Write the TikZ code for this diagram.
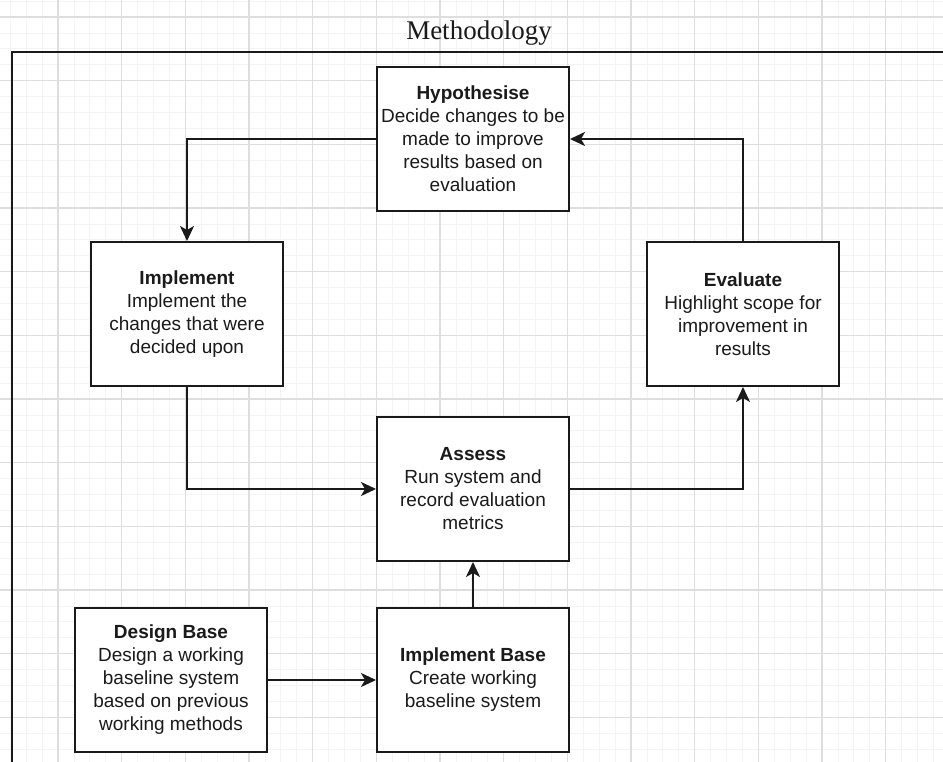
\documentclass[tikz,border=0pt]{standalone}
\usepackage{fontspec}
\newfontfamily\boxfont{Liberation Sans}
\newfontfamily\titlefont{Liberation Serif}
\usetikzlibrary{arrows.meta}
\definecolor{minorgrid}{HTML}{F4F4F4}
\definecolor{majorgrid}{HTML}{DEDEDE}
\definecolor{ink}{HTML}{1A1A1A}
\tikzset{
  stepbox/.style={draw=ink, line width=2pt, fill=white, minimum width=192pt,
    minimum height=144pt, inner sep=0pt, align=center, text=ink,
    font=\boxfont\fontsize{19pt}{23pt}\selectfont},
  connector/.style={draw=ink, line width=2pt,
    -{Stealth[length=15pt, width=14pt, inset=4pt]}},
  frameline/.style={draw=ink, line width=2pt}
}
\begin{document}
\begin{tikzpicture}[x=1pt, y=-1pt]
\useasboundingbox (0,0) rectangle (943,762);
\clip (0,0) rectangle (943,762);
\fill[white] (0,0) rectangle (943,762);
% background grid: minor lines every quarter of a major cell
\foreach \i in {0,...,64} {
  \pgfmathsetmacro{\gx}{-5.67 + \i*15.9175}
  \draw[minorgrid, line width=0.8pt] (\gx,0) -- (\gx,762);
}
\foreach \i in {0,...,52} {
  \pgfmathsetmacro{\gy}{-46.67 + \i*15.9175}
  \draw[minorgrid, line width=0.8pt] (0,\gy) -- (943,\gy);
}
\foreach \i in {0,...,16} {
  \pgfmathsetmacro{\gx}{-5.67 + \i*63.67}
  \draw[majorgrid, line width=1.1pt] (\gx,0) -- (\gx,762);
}
\foreach \i in {0,...,13} {
  \pgfmathsetmacro{\gy}{-46.67 + \i*63.67}
  \draw[majorgrid, line width=1.1pt] (0,\gy) -- (943,\gy);
}
% outer frame with its title
\draw[frameline] (12,775) -- (12,52) -- (955,52);
\node[font=\titlefont\fontsize{27pt}{30pt}\selectfont, text=ink] (title) at (479,33) {Methodology};
% process steps
\node[stepbox] (hyp) at (473,139) {\textbf{Hypothesise}\\Decide changes to be\\made to improve\\results based on\\evaluation};
\node[stepbox] (impl) at (187,314) {\textbf{Implement}\\Implement the\\changes that were\\decided upon};
\node[stepbox] (eval) at (743,314) {\textbf{Evaluate}\\Highlight scope for\\improvement in\\results};
\node[stepbox] (assess) at (473,489) {\textbf{Assess}\\Run system and\\record evaluation\\metrics};
\node[stepbox] (design) at (171,680) {\textbf{Design Base}\\Design a working\\baseline system\\based on previous\\working methods};
\node[stepbox] (base) at (473,680) {\textbf{Implement Base}\\Create working\\baseline system};
% connectors
\draw[connector] (hyp.west) -| (impl.north);
\draw[connector] (eval.north) |- (hyp.east);
\draw[connector] (impl.south) |- (assess.west);
\draw[connector] (assess.east) -| (eval.south);
\draw[connector] (base.north) -- (assess.south);
\draw[connector] (design.east) -- (base.west);
\end{tikzpicture}
\end{document}
